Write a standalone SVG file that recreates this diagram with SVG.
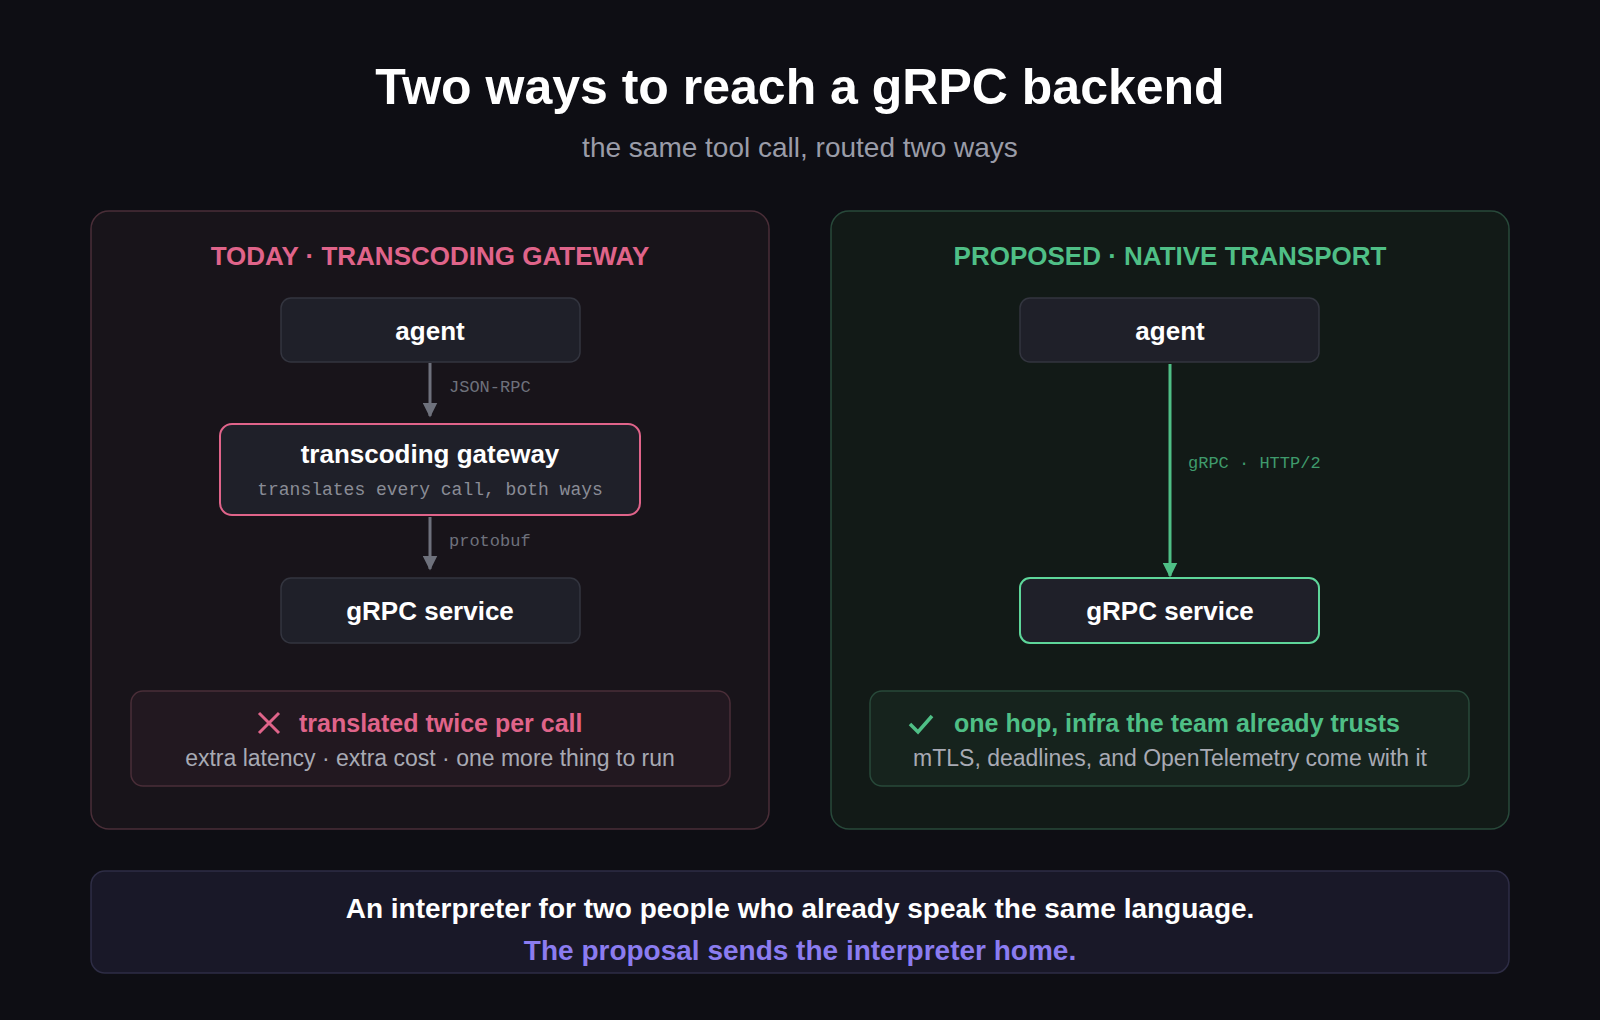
<svg xmlns="http://www.w3.org/2000/svg" width="1600" height="1020" viewBox="0 0 1600 1020">
<defs>
<style>
.s{font-family:"Liberation Sans",Arial,sans-serif}
.m{font-family:"Liberation Mono","Courier New",monospace}
.node{fill:#1f2029;stroke:#33353f;stroke-width:1.5}
.nt{font-family:"Liberation Sans",Arial,sans-serif;font-weight:bold;font-size:26px;fill:#ffffff;text-anchor:middle}
</style>
<marker id="ag" viewBox="0 0 10 10" refX="9" refY="5" markerWidth="5" markerHeight="5" orient="auto"><path d="M0,0L10,5L0,10z" fill="#6e717c"/></marker>
<marker id="ae" viewBox="0 0 10 10" refX="9" refY="5" markerWidth="5" markerHeight="5" orient="auto"><path d="M0,0L10,5L0,10z" fill="#4fbf86"/></marker>
</defs>
<rect width="1600" height="1020" fill="#0e0e14"/>
<text x="800" y="104" class="s" font-size="50" font-weight="bold" fill="#ffffff" text-anchor="middle">Two ways to reach a gRPC backend</text>
<text x="800" y="157" class="s" font-size="28" fill="#9a9ca8" text-anchor="middle">the same tool call, routed two ways</text>

<g id="panel-today">
<rect x="91" y="211" width="678" height="618" rx="18" fill="#18141a" stroke="#4a2e38" stroke-width="1.5"/>
<text x="430" y="265" class="s" font-size="26" font-weight="bold" fill="#e0648a" text-anchor="middle">TODAY · TRANSCODING GATEWAY</text>
</g>
<g id="panel-proposed">
<rect x="831" y="211" width="678" height="618" rx="18" fill="#121a17" stroke="#28493a" stroke-width="1.5"/>
<text x="1170" y="265" class="s" font-size="26" font-weight="bold" fill="#4fbf86" text-anchor="middle">PROPOSED · NATIVE TRANSPORT</text>
</g>

<g id="connectors">
<line x1="430" y1="363" x2="430" y2="416" stroke="#6e717c" stroke-width="3" marker-end="url(#ag)"/>
<text x="449" y="392" class="m" font-size="17" fill="#6e717c">JSON-RPC</text>
<line x1="430" y1="517" x2="430" y2="569" stroke="#6e717c" stroke-width="3" marker-end="url(#ag)"/>
<text x="449" y="546" class="m" font-size="17" fill="#6e717c">protobuf</text>
<line x1="1170" y1="364" x2="1170" y2="576" stroke="#4fbf86" stroke-width="3" marker-end="url(#ae)"/>
<text x="1188" y="468" class="m" font-size="17" fill="#3f9a6c">gRPC · HTTP/2</text>
</g>

<g id="agent-left"><rect class="node" x="281" y="298" width="299" height="64" rx="10"/><text class="nt" x="430" y="340">agent</text></g>
<g id="gateway"><rect x="220" y="424" width="420" height="91" rx="12" fill="#1f2029" stroke="#e0648a" stroke-width="2"/><text class="nt" x="430" y="463">transcoding gateway</text><text x="430" y="495" class="m" font-size="18" fill="#8a8c96" text-anchor="middle">translates every call, both ways</text></g>
<g id="grpc-left"><rect class="node" x="281" y="578" width="299" height="65" rx="10"/><text class="nt" x="430" y="620">gRPC service</text></g>

<g id="agent-right"><rect class="node" x="1020" y="298" width="299" height="64" rx="10"/><text class="nt" x="1170" y="340">agent</text></g>
<g id="grpc-right"><rect x="1020" y="578" width="299" height="65" rx="10" fill="#1f2029" stroke="#5ed69a" stroke-width="2"/><text class="nt" x="1170" y="620">gRPC service</text></g>

<g id="note-left">
<rect x="131" y="691" width="599" height="95" rx="12" fill="#221820" stroke="#4a2e38" stroke-width="1.5"/>
<path d="M259,713l20,20M279,713l-20,20" stroke="#e0648a" stroke-width="3" fill="none"/>
<text x="299" y="732" class="s" font-size="25" font-weight="bold" fill="#e0648a">translated twice per call</text>
<text x="430" y="766" class="s" font-size="23" fill="#a8aab4" text-anchor="middle">extra latency · extra cost · one more thing to run</text>
</g>
<g id="note-right">
<rect x="870" y="691" width="599" height="95" rx="12" fill="#16231d" stroke="#28493a" stroke-width="1.5"/>
<path d="M910,724l8,8l14,-16" stroke="#4fbf86" stroke-width="3.5" fill="none"/>
<text x="954" y="732" class="s" font-size="25" font-weight="bold" fill="#4fbf86">one hop, infra the team already trusts</text>
<text x="1170" y="766" class="s" font-size="23" fill="#a8aab4" text-anchor="middle">mTLS, deadlines, and OpenTelemetry come with it</text>
</g>

<g id="footer">
<rect x="91" y="871" width="1418" height="102" rx="14" fill="#191828" stroke="#2e2d45" stroke-width="1.5"/>
<text x="800" y="918" class="s" font-size="28" font-weight="bold" fill="#ffffff" text-anchor="middle">An interpreter for two people who already speak the same language.</text>
<text x="800" y="960" class="s" font-size="28" font-weight="bold" fill="#8b7cf0" text-anchor="middle">The proposal sends the interpreter home.</text>
</g>
</svg>
